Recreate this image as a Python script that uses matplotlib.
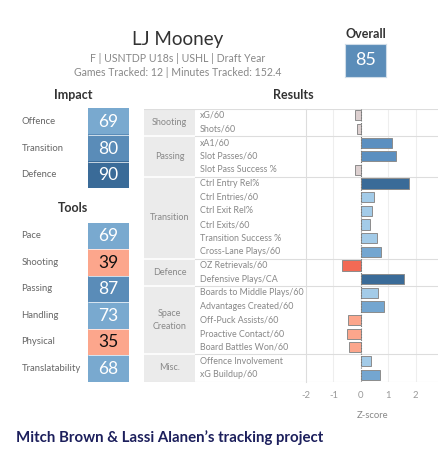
import numpy as np
import matplotlib
matplotlib.use("Agg")
import matplotlib.pyplot as plt
from matplotlib.colors import ListedColormap, BoundaryNorm

W, H = 439, 451

player = "LJ Mooney"
subtitle = "F | USNTDP U18s | USHL | Draft Year"
tracked = "Games Tracked: 12 | Minutes Tracked: 152.4"
overall = 85

impact_labels = ["Offence", "Transition", "Defence"]
impact_values = [69, 80, 90]
tools_labels = ["Pace", "Shooting", "Passing", "Handling", "Physical", "Translatability"]
tools_values = [69, 39, 87, 73, 35, 68]

groups = ["Shooting", "Passing", "Transition", "Defence", "Space\nCreation", "Misc."]
group_sizes = [2, 3, 6, 2, 5, 2]
metrics = ["xG/60", "Shots/60",
           "xA1/60", "Slot Passes/60", "Slot Pass Success %",
           "Ctrl Entry Rel%", "Ctrl Entries/60", "Ctrl Exit Rel%", "Ctrl Exits/60",
           "Transition Success %", "Cross-Lane Plays/60",
           "OZ Retrievals/60", "Defensive Plays/CA",
           "Boards to Middle Plays/60", "Advantages Created/60", "Off-Puck Assists/60",
           "Proactive Contact/60", "Board Battles Won/60",
           "Offence Involvement", "xG Buildup/60"]
zscores = [-0.22, -0.14,
           1.13, 1.29, -0.22,
           1.76, 0.47, 0.41, 0.32, 0.59, 0.75,
           -0.70, 1.58,
           0.64, 0.83, -0.48, -0.52, -0.43,
           0.37, 0.71]
xticks = [-2, -1, 0, 1, 2]


def fx(x):
    return x / W


def fy(y):
    return 1 - y / H


def pix_axes(x0, y0, x1, y1):
    return fig.add_axes([fx(x0), fy(y1), fx(x1 - x0), (y1 - y0) / H])


plt.rcParams["font.family"] = ["Lato", "DejaVu Sans"]
plt.rcParams["axes.unicode_minus"] = False
fig = plt.figure(figsize=(W / 100, H / 100), dpi=100)
fig.patch.set_facecolor("white")

# header
fig.text(fx(178), fy(40), player, ha="center", va="center", fontsize=13.5, color="#333333")
fig.text(fx(178), fy(58.5), subtitle, ha="center", va="center", fontsize=7.6, color="#888888")
fig.text(fx(178), fy(73), tracked, ha="center", va="center", fontsize=7.6, color="#888888")
fig.text(fx(366), fy(34.5), "Overall", ha="center", va="center", fontsize=9, color="#333333", fontweight="bold")
ax_ov = pix_axes(345, 43.5, 386, 76.5)
ax_ov.set_facecolor("#5b8db9")
ax_ov.set_xticks([]); ax_ov.set_yticks([])
for s in ax_ov.spines.values():
    s.set_color("#cfdce8")
ax_ov.text(0.5, 0.5, str(overall), ha="center", va="center", fontsize=13, color="white",
           transform=ax_ov.transAxes)

fig.text(fx(73), fy(95), "Impact", ha="center", va="center", fontsize=9, color="#333333", fontweight="bold")
fig.text(fx(73), fy(208), "Tools", ha="center", va="center", fontsize=9, color="#333333", fontweight="bold")
fig.text(fx(293), fy(95), "Results", ha="center", va="center", fontsize=9, color="#333333", fontweight="bold")

# heat cells
cell_cmap = ListedColormap(["#fca68c", "#d9d9d9", "#79a9cf", "#5a8cb8", "#3a6b98"])
cell_norm = BoundaryNorm([0, 45, 60, 76, 88, 101], cell_cmap.N)


def cells(labels, values, y0, y1):
    ax = pix_axes(88, y0, 129, y1)
    ax.imshow(np.array(values)[:, None], cmap=cell_cmap, norm=cell_norm, aspect="auto",
              extent=(0, 1, len(values), 0))
    ax.hlines(np.arange(1, len(values)), 0, 1, color="white", lw=0.5)
    ax.set_xlim(0, 1); ax.set_ylim(len(values), 0)
    ax.set_xticks([]); ax.set_yticks([])
    for s in ax.spines.values():
        s.set_visible(False)
    step = (y1 - y0) / len(values)
    for i, (lab, v) in enumerate(zip(labels, values)):
        ax.text(0.5, i + 0.52, str(v), ha="center", va="center", fontsize=12.5,
                color="#111111" if v < 45 else "white")
        fig.text(fx(21.5), fy(y0 + step * (i + 0.5)), lab, ha="left", va="center",
                 fontsize=6.8, color="#666666")


cells(impact_labels, impact_values, 108.3, 188.3)
cells(tools_labels, tools_values, 222.7, 381.7)

# results table
top, bot = 108.5, 381.5
n = len(metrics)
bounds = np.concatenate([[0], np.cumsum(group_sizes)])

ax_tab = pix_axes(144, top, 306, bot)
ax_tab.set_xlim(144, 306); ax_tab.set_ylim(n, 0)
ax_tab.axis("off")
ax_tab.fill_between([144, 195], 0, n, color="#ebebeb", lw=0)
for b in bounds[1:-1]:
    ax_tab.plot([144, 195], [b, b], color="white", lw=1.2)
    ax_tab.plot([195, 306], [b, b], color="#dddddd", lw=0.8)
ax_tab.plot([195, 306], [0, 0], color="#dddddd", lw=0.8)
ax_tab.plot([195, 306], [n, n], color="#dddddd", lw=0.8)
ax_tab.plot([144, 195], [0, 0], color="#dddddd", lw=0.8)
ax_tab.plot([144, 195], [n, n], color="#dddddd", lw=0.8)
for g, a, b in zip(groups, bounds[:-1], bounds[1:]):
    ax_tab.text(169.5, (a + b) / 2, g, ha="center", va="center", fontsize=6.5,
                color="#888888", linespacing=1.5)
for i, m in enumerate(metrics):
    ax_tab.text(200, i + 0.5, m, ha="left", va="center", fontsize=6.4, color="#888888")

bar_cmap = ListedColormap(["#f26a55", "#fca68c", "#ddd0d0", "#a3cbe8", "#74a6d0", "#5b8fc0", "#3a6b98"])
bar_norm = BoundaryNorm([-9, -0.6, -0.3, 0, 0.67, 1.0, 1.5, 9], bar_cmap.N)

ax = pix_axes(306, top, 439, bot)
ypos = np.arange(n) + 0.5
ax.barh(ypos, zscores, height=0.75, color=bar_cmap(bar_norm(zscores)),
        edgecolor="#8c8c8c", lw=0.7, zorder=3)
ax.set_xlim(-1.98, 2.85)
ax.set_ylim(n, 0)
for t in xticks:
    if t == 0:
        ax.axvline(0, color="#777777", lw=0.8, ls=(0, (1, 1.5)), zorder=4)
    elif t > -2:
        ax.axvline(t, color="#eeeeee", lw=0.8, zorder=1)
for b in bounds:
    ax.axhline(b, color="#dddddd", lw=0.8, zorder=2)
ax.set_xticks(xticks)
ax.set_yticks([])
ax.tick_params(axis="x", length=0, labelsize=6.8, labelcolor="#999999", pad=7)
for s in ["top", "right", "bottom"]:
    ax.spines[s].set_visible(False)
ax.spines["left"].set_color("#dddddd")
ax.spines["left"].set_linewidth(0.8)
ax.set_xlabel("Z-score", fontsize=6.8, color="#888888", labelpad=8)

fig.text(fx(16.5), fy(437.5), "Mitch Brown & Lassi Alanen\u2019s tracking project", ha="left", va="center",
         fontsize=10.8, color="#1c1f5c", fontweight="bold")

fig.savefig("out.png", dpi=100)
